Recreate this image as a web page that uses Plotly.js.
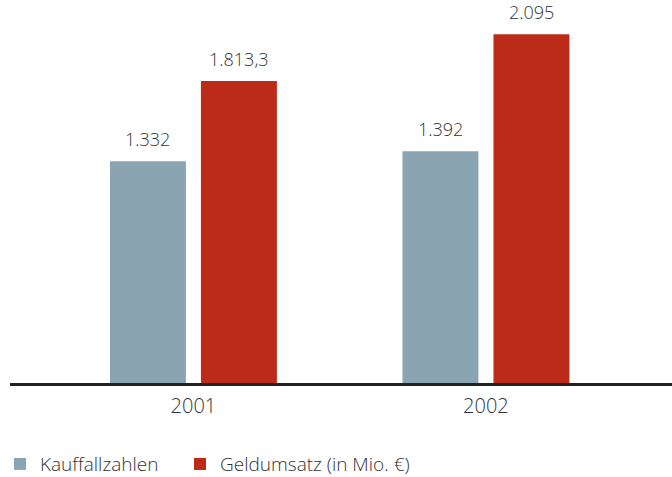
<!DOCTYPE html>
<html><head><meta charset="utf-8">
<script src="https://cdn.plot.ly/plotly-3.0.1.min.js"></script>
<style>html,body{margin:0;padding:0;background:#fff}#c{width:672px;height:477px}</style>
</head><body><div id="c"></div>
<script>
const years = ["2001", "2002"];
const kauffallzahlen = [1332, 1392];
const geldumsatz = [1813.3, 2095];
const kaufLabels = ["1.332", "1.392"];
const geldLabels = ["1.813,3", "2.095"];
const seriesNames = ["Kauffallzahlen", "Geldumsatz (in Mio. €)"];

const FAM = "'Open Sans', 'Noto Sans', sans-serif";
const TXT = "#333333";
const labelFont = {family: FAM, size: 18, color: TXT, weight: 300};
const traces = [
  {type: "bar", x: years, y: kauffallzahlen, name: seriesNames[0], legend: "legend",
   marker: {color: "#8aa5b1"}, hoverinfo: "none"},
  {type: "bar", x: years, y: geldumsatz, name: seriesNames[1], legend: "legend2",
   marker: {color: "#bc2b1a"}, hoverinfo: "none"}
];
const annotations = [];
years.forEach((yr, i) => {
  annotations.push({x: i, y: kauffallzahlen[i], xref: "x", yref: "y", text: kaufLabels[i],
    showarrow: false, xshift: -45.5, yanchor: "bottom", yshift: 8, font: labelFont});
  annotations.push({x: i, y: geldumsatz[i], xref: "x", yref: "y", text: geldLabels[i],
    showarrow: false, xshift: 45.5, yanchor: "bottom", yshift: 8, font: labelFont});
});
const legFont = {family: FAM, size: 19, color: TXT, weight: 300};
const layout = {
  width: 672, height: 477,
  margin: {l: 10, r: 0, t: 0, b: 87, autoexpand: false},
  paper_bgcolor: "#fff", plot_bgcolor: "#fff",
  font: {family: FAM, size: 18, color: TXT},
  barmode: "group", bargap: 0.378, bargroupgap: 0.165,
  xaxis: {type: "category", range: [-0.627, 1.636], showgrid: false, zeroline: false,
          showline: false, ticks: "", ticklabelstandoff: 2,
          tickfont: {family: FAM, size: 20, color: TXT, weight: 300}},
  yaxis: {range: [-42, 2300], visible: false, showgrid: false, zeroline: false},
  shapes: [{type: "line", xref: "paper", yref: "y", x0: 0, x1: 1, y0: -9, y1: -9,
            line: {color: "#222", width: 3}}],
  annotations: annotations,
  showlegend: true,
  legend: {orientation: "h", x: -0.0151, xanchor: "left", y: -0.19, yanchor: "middle",
           font: legFont, itemwidth: 30},
  legend2: {orientation: "h", x: 0.2568, xanchor: "left", y: -0.19, yanchor: "middle",
           font: legFont, itemwidth: 30},
};
Plotly.newPlot("c", traces, layout, {staticPlot: true});
</script></body></html>
